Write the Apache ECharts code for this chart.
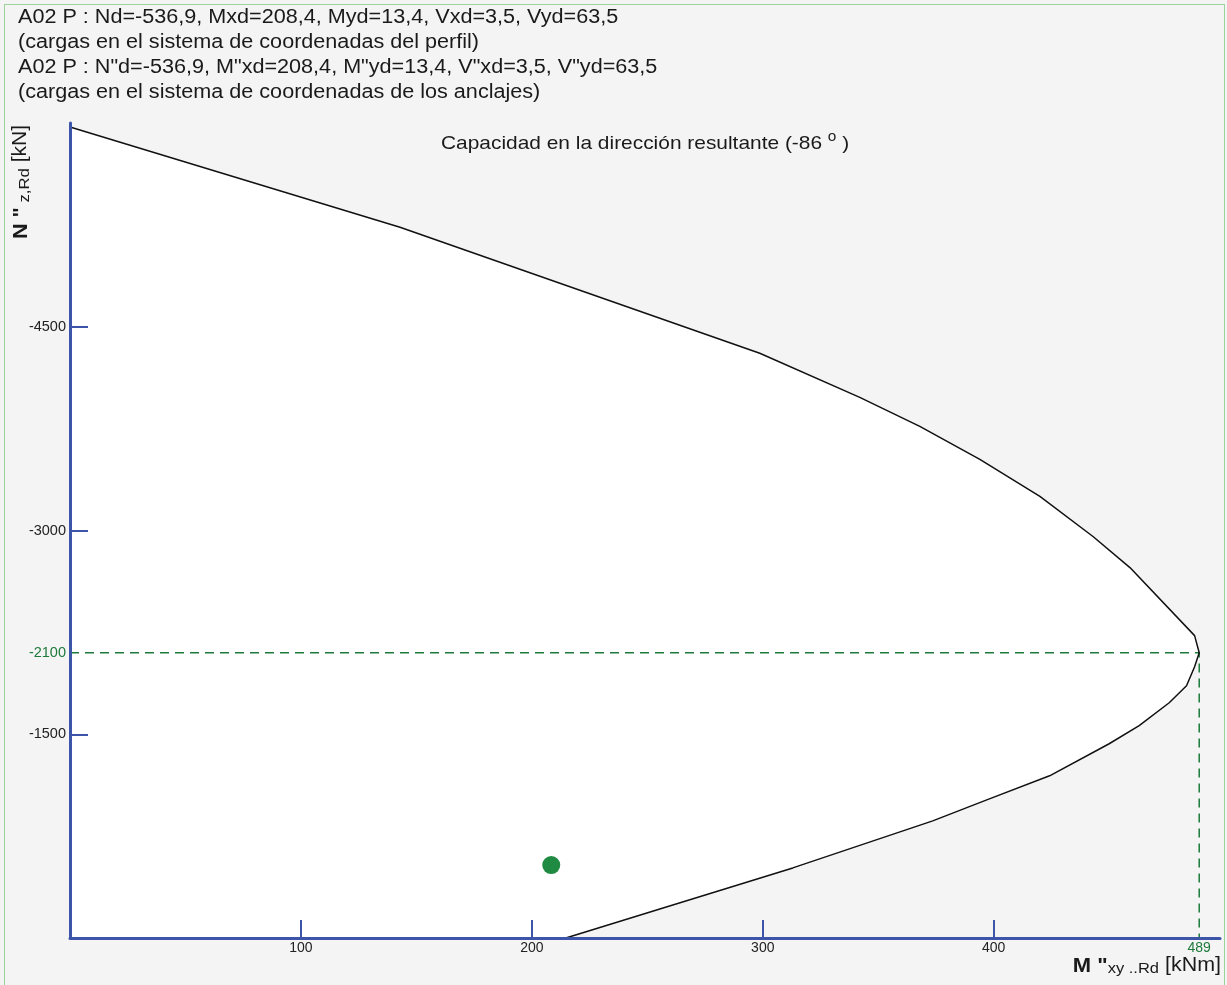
<!DOCTYPE html>
<html>
<head>
<meta charset="utf-8">
<script src="https://cdn.jsdelivr.net/npm/echarts@6/dist/echarts.min.js"></script>
<style>
  html, body { margin: 0; padding: 0; background: #f4f4f4; }
  #frame { position: absolute; left: 4px; top: 4px; width: 1221px; height: 990px; border: 1px solid #9ad49a; box-sizing: border-box; }
  #chart { position: absolute; left: 0; top: 0; width: 1227px; height: 985px; }
</style>
</head>
<body>
<div id="frame"></div>
<div id="chart"></div>
<script>
// Interaction diagram: bending capacity M''xy,Rd [kNm] vs axial capacity N''z,Rd [kN]
const capM = [0, 142.9, 298.7, 342, 368, 394, 420, 443, 459, 487, 489, 487, 483.5, 476, 463, 450, 424.2, 397, 373.6, 313, 214.7];
const capN = [-5970, -5233, -4305, -3980, -3767, -3523, -3251, -2956, -2727, -2226, -2100, -1997, -1857, -1732, -1563, -1430, -1194, -1017, -862, -516, 0];

// Design load point (Mxd, Nd)
const loadM = 208.4;
const loadN = -536.9;

// Maximum moment capacity and its axial force
const maxM = 489;
const maxMN = -2100;

const xTicks = [100, 200, 300, 400];
const yTicks = [-4500, -3000, -1500];

const headerLines = [
  'A02 P : Nd=-536,9, Mxd=208,4, Myd=13,4, Vxd=3,5, Vyd=63,5',
  '(cargas en el sistema de coordenadas del perfil)',
  'A02 P : N"d=-536,9, M"xd=208,4, M"yd=13,4, V"xd=3,5, V"yd=63,5',
  '(cargas en el sistema de coordenadas de los anclajes)'
];

const FONT = '"Liberation Sans", Arial, sans-serif';
const AXIS_BLUE = '#3c55a8';
const GREEN = '#1d7a3c';
const INK = '#1a1a1a';
const STRETCH = 1.08;

const curve = capM.map((m, i) => [m, capN[i]]);
const region = [[0, 0]].concat(curve.slice().reverse()).concat([[0, capN[0]]]);

const chart = echarts.init(document.getElementById('chart'), null, { renderer: 'canvas' });

const headerText = headerLines.map((t, i) => ({
  type: 'text', x: 18, y: 17 + i * 25, scaleX: STRETCH,
  style: { text: t, font: '20px ' + FONT, fill: INK, align: 'left', verticalAlign: 'middle' }
}));

const plainNum = v => String(v);

chart.setOption({
  backgroundColor: 'transparent',
  animation: false,
  grid: { left: 70, right: 7, top: 123, bottom: 47, containLabel: false },
  xAxis: {
    type: 'value', min: 0, max: 498, z: 10,
    splitLine: { show: false },
    axisLine: { onZero: false, lineStyle: { color: AXIS_BLUE, width: 3 } },
    axisTick: { show: true, inside: true, length: 18, customValues: xTicks, lineStyle: { color: AXIS_BLUE, width: 2 } },
    axisLabel: {
      customValues: xTicks.concat([maxM]),
      margin: 3, fontFamily: FONT, fontSize: 14,
      formatter: plainNum,
      color: v => (Number(v) === maxM ? GREEN : '#222')
    }
  },
  yAxis: {
    type: 'value', min: -6000, max: 0, inverse: true, z: 10,
    splitLine: { show: false },
    axisLine: { onZero: false, lineStyle: { color: AXIS_BLUE, width: 3 } },
    axisTick: { show: true, inside: true, length: 18, customValues: yTicks, lineStyle: { color: AXIS_BLUE, width: 2 } },
    axisLabel: {
      customValues: yTicks.concat([maxMN]),
      margin: 4, fontFamily: FONT, fontSize: 14.5,
      formatter: plainNum,
      color: v => (Number(v) === maxMN ? GREEN : '#222')
    }
  },
  graphic: headerText.concat([
    {
      type: 'text', x: 441, y: 144, scaleX: 1.1, z: 20,
      style: {
        text: '{t|Capacidad en la dirección resultante (-86 }{s|o}{t| )}',
        align: 'left', verticalAlign: 'middle',
        rich: {
          t: { fontFamily: FONT, fontSize: 19, fill: INK },
          s: { fontFamily: FONT, fontSize: 14, fill: INK, padding: [0, 0, 14, 0] }
        }
      }
    },
    {
      type: 'text', x: 21, y: 182, rotation: Math.PI / 2, scaleX: STRETCH,
      style: {
        text: '{b|N "}{s| z,Rd}{n| [kN]}',
        align: 'center', verticalAlign: 'middle',
        rich: {
          b: { fontFamily: FONT, fontWeight: 'bold', fontSize: 20, fill: INK },
          s: { fontFamily: FONT, fontSize: 15.5, fill: INK, padding: [7, 0, 0, 0] },
          n: { fontFamily: FONT, fontSize: 19.5, fill: INK }
        }
      }
    },
    {
      type: 'text', x: 1221, y: 966, scaleX: 1.1,
      style: {
        text: '{b|M "}{s|xy ..Rd}{n| [kNm]}',
        align: 'right', verticalAlign: 'middle',
        rich: {
          b: { fontFamily: FONT, fontWeight: 'bold', fontSize: 20, fill: INK },
          s: { fontFamily: FONT, fontSize: 15, fill: INK, padding: [6, 0, 0, 0] },
          n: { fontFamily: FONT, fontSize: 19.5, fill: INK }
        }
      }
    }
  ]),
  series: [
    {
      type: 'custom',
      z: 1,
      silent: true,
      data: [[0, 0]],
      renderItem: (params, api) => ({
        type: 'polygon',
        shape: { points: region.map(p => api.coord(p)) },
        style: { fill: '#ffffff', stroke: 'none' }
      })
    },
    {
      type: 'line', z: 3, data: curve, showSymbol: false, symbol: 'none',
      lineStyle: { color: '#111', width: 1.5 }
    },
    {
      type: 'line', z: 2, data: [[0, maxMN], [maxM, maxMN], [maxM, 0]], showSymbol: false, symbol: 'none',
      lineStyle: { color: GREEN, width: 1.5, type: [9, 6] }
    },
    {
      type: 'scatter', z: 4, data: [[loadM, loadN]], symbolSize: 18,
      itemStyle: { color: '#1e8a42', opacity: 1 }
    }
  ]
});
</script>
</body>
</html>
